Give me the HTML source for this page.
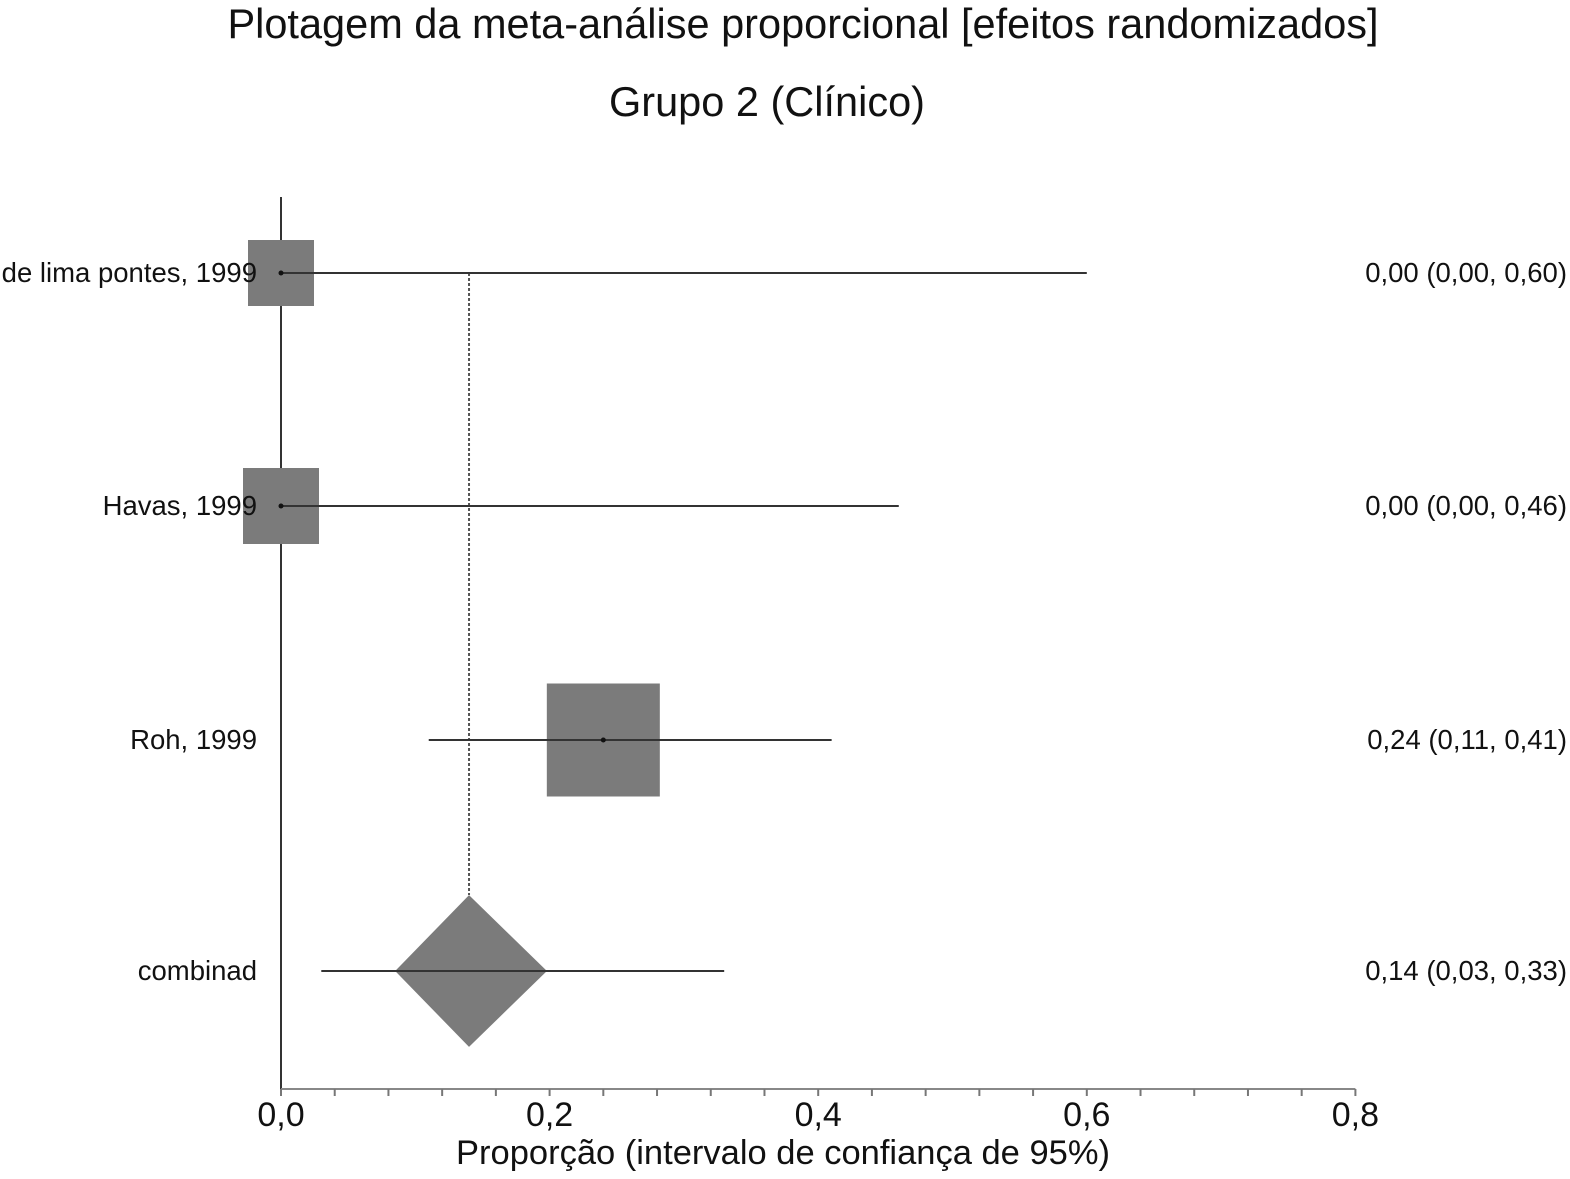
<!DOCTYPE html>
<html><head><meta charset="utf-8"><style>
body{margin:0;background:#fff}
svg text{font-family:"Liberation Sans",sans-serif;fill:#111}
</style></head><body>
<svg width="1570" height="1174" viewBox="0 0 1570 1174">
<text x="803" y="38" font-size="41.5" text-anchor="middle">Plotagem da meta-análise proporcional [efeitos randomizados]</text>
<text x="767" y="116" font-size="41.5" text-anchor="middle">Grupo 2 (Clínico)</text>
<g id="plot"></g>
<text x="783" y="1164" font-size="34.5" text-anchor="middle">Proporção (intervalo de confiança de 95%)</text>
</svg>
<script>
const studies=["de lima pontes, 1999","Havas, 1999","Roh, 1999"];
const est=[0.00,0.00,0.24];
const lo=[0.00,0.00,0.11];
const hi=[0.60,0.46,0.41];
const boxSize=[66,76,113];
const pooledLabel="combinad";
const pooled=[0.14,0.03,0.33];
const pooledBox=[0.085,0.198];
const ticks=[0,0.2,0.4,0.6,0.8];
const tickLabels=["0,0","0,2","0,4","0,6","0,8"];
const fmt=v=>v.toFixed(2).replace('.',',');
const NS="http://www.w3.org/2000/svg";
const g=document.getElementById('plot');
const X=v=>281+v*1343;
const rowY=[273,506,740,971];
function el(t,a){const e=document.createElementNS(NS,t);for(const k in a)e.setAttribute(k,a[k]);g.appendChild(e);return e;}
let e;
e=el('line',{x1:281,y1:197,x2:281,y2:1089,stroke:'#333','stroke-width':2});


e=el('line',{x1:281,y1:1089,x2:X(0.8),y2:1089,stroke:'#888','stroke-width':2});


for(let v=0;v<=0.8001;v+=0.04){
 e=el('line',{x1:X(v),y1:1089,x2:X(v),y2:1096,stroke:'#777','stroke-width':2});
 
 
}
ticks.forEach((t,i)=>{
 e=el('text',{x:X(t),y:1126,'font-size':34,'text-anchor':'middle'});e.textContent=tickLabels[i];
 
 
});
e=el('line',{x1:X(pooled[0]),y1:rowY[0],x2:X(pooled[0]),y2:rowY[3]-76,stroke:'#555','stroke-width':2,'stroke-dasharray':'3,2'});


studies.forEach((s,i)=>{
 const y=rowY[i],b=boxSize[i];
 e=el('rect',{x:X(est[i])-b/2,y:y-b/2,width:b,height:b,fill:'#7b7b7b'});
 
 
 e=el('line',{x1:X(lo[i]),y1:y,x2:X(hi[i]),y2:y,stroke:'#333','stroke-width':2});
 
 
 e=el('circle',{cx:X(est[i]),cy:y,r:2.5,fill:'#111'});
 
 
 e=el('text',{x:257,y:y+9,'font-size':27.5,'text-anchor':'end'});e.textContent=s;
 
 
 e=el('text',{x:1567,y:y+9,'font-size':27.5,'text-anchor':'end'});e.textContent=`${fmt(est[i])} (${fmt(lo[i])}, ${fmt(hi[i])})`;
 
 
});
const py=rowY[3];
const hw=(X(pooledBox[1])-X(pooledBox[0]))/2;
e=el('polygon',{points:`${X(pooledBox[0])},${py} ${X(pooled[0])},${py-hw} ${X(pooledBox[1])},${py} ${X(pooled[0])},${py+hw}`,fill:'#7b7b7b'});


e=el('line',{x1:X(pooled[1]),y1:py,x2:X(pooled[2]),y2:py,stroke:'#333','stroke-width':2});


e=el('text',{x:257,y:py+9,'font-size':27.5,'text-anchor':'end'});e.textContent=pooledLabel;


e=el('text',{x:1567,y:py+9,'font-size':27.5,'text-anchor':'end'});e.textContent=`${fmt(pooled[0])} (${fmt(pooled[1])}, ${fmt(pooled[2])})`;


</script>
</body></html>
